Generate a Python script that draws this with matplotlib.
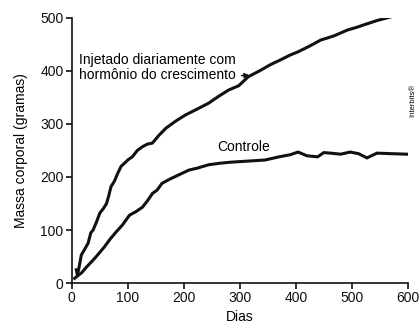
import matplotlib
matplotlib.use("Agg")
import matplotlib.pyplot as plt

plt.rcParams['font.family'] = ['Liberation Sans', 'DejaVu Sans']

gh_days = [8, 10, 13, 17, 22, 29, 34, 38, 44, 50, 56, 62, 66, 70, 76, 82, 88, 94, 101, 108, 117, 126, 135, 144, 155, 168, 185, 203, 220, 244, 262, 280, 298, 315, 335, 355, 373, 390, 404, 425, 444, 468, 492, 508, 522, 545, 563, 580, 598]
gh_mass = [25, 15, 30, 53, 62, 75, 95, 100, 115, 132, 140, 150, 165, 182, 192, 207, 220, 226, 233, 238, 250, 257, 262, 264, 278, 292, 305, 317, 326, 339, 352, 364, 372, 389, 400, 412, 421, 430, 436, 447, 458, 466, 477, 482, 487, 495, 500, 505, 507]

ctrl_days = [5, 12, 18, 26, 35, 42, 50, 58, 67, 78, 90, 103, 115, 126, 135, 144, 152, 161, 175, 191, 209, 225, 244, 265, 285, 315, 345, 370, 390, 404, 420, 439, 450, 462, 480, 497, 512, 527, 545, 570, 598]
ctrl_mass = [9, 15, 20, 30, 40, 48, 58, 68, 81, 95, 109, 128, 135, 143, 155, 169, 175, 188, 196, 204, 213, 217, 223, 226, 228, 230, 232, 238, 242, 247, 240, 238, 246, 245, 243, 247, 244, 236, 245, 244, 243]

x_ticks = [0, 100, 200, 300, 400, 500, 600]
y_ticks = [0, 100, 200, 300, 400, 500]

fig = plt.figure(figsize=(4.2, 3.25), dpi=100)
ax = fig.add_axes([0.171, 0.129, 0.800, 0.816])

ax.plot(gh_days, gh_mass, color='#111111', lw=2.2, solid_joinstyle='miter')
ax.plot(ctrl_days, ctrl_mass, color='#111111', lw=2.2, solid_joinstyle='miter')

ax.set_xlim(0, 600)
ax.set_ylim(0, 500)
ax.set_xticks(x_ticks)
ax.set_yticks(y_ticks)
for s in ['top', 'right']:
    ax.spines[s].set_visible(False)
for s in ['left', 'bottom']:
    ax.spines[s].set_linewidth(1.2)
    ax.spines[s].set_color('#111111')
ax.tick_params(direction='out', length=4, width=1.2, labelsize=10, colors='#111111', pad=2)

ax.set_xlabel('Dias', fontsize=10)
ax.set_ylabel('Massa corporal (gramas)', fontsize=10)
ax.xaxis.set_label_coords(0.5, -0.10)
ax.yaxis.set_label_coords(-0.13, 0.5)

ax.text(12, 407, 'Injetado diariamente com\nhormônio do crescimento', fontsize=10,
        ha='left', va='center', linespacing=1.1)
ax.annotate('', xy=(322, 392), xytext=(298, 391),
            arrowprops=dict(arrowstyle='-|>', color='#111111', lw=1.0, mutation_scale=7))
ax.text(306, 257, 'Controle', fontsize=10, ha='center', va='center')
fig.text(0.983, 0.69, 'Interbits®', fontsize=5.5, rotation=90, ha='center', va='center')

fig.savefig('out.png', dpi=100)
